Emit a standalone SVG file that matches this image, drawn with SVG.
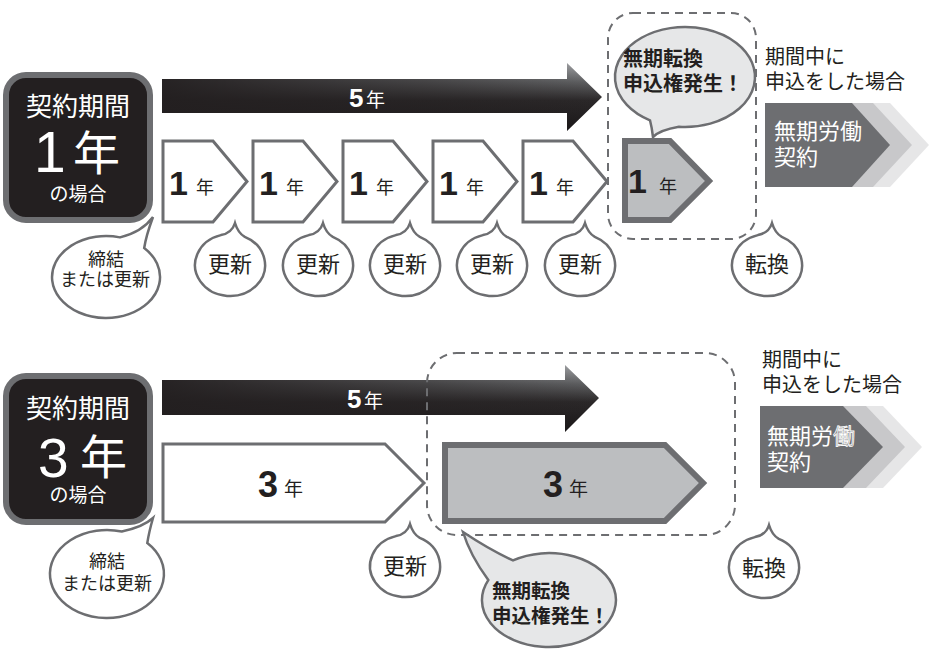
<svg xmlns="http://www.w3.org/2000/svg" width="929" height="650" viewBox="0 0 929 650">
<defs>
<style>
.jp{font-family:"Noto Sans CJK JP","Noto Sans",sans-serif;}
.num{font-family:"Liberation Sans",Arial,sans-serif;font-weight:bold;}
.numr{font-family:"Liberation Sans",Arial,sans-serif;}
.node{fill:#231f20;stroke:#6d6e71;stroke-width:6;}
.chev{fill:#fff;stroke:#6d6e71;stroke-width:3;stroke-linejoin:miter;}
.chevg{fill:#bcbec0;stroke:#6d6e71;stroke-width:6;}
.bub{fill:#fff;stroke:#6d6e71;stroke-width:2.5;}
.bubg{fill:#e6e7e8;stroke:#6d6e71;stroke-width:2.5;}
.dash{fill:none;stroke:#6d6e71;stroke-width:2;stroke-dasharray:8 6;}
.w{fill:#fff;}
.k{fill:#231f20;}
</style>
<linearGradient id="gv" x1="0" y1="0" x2="0" y2="1">
<stop offset="0" stop-color="#a7a9ac"/>
<stop offset="0.28" stop-color="#5f6062"/>
<stop offset="0.55" stop-color="#2b2829"/>
<stop offset="1" stop-color="#1a1718"/>
</linearGradient>
<linearGradient id="gh" x1="0" y1="0" x2="1" y2="0">
<stop offset="0" stop-color="#231f20" stop-opacity="0.95"/>
<stop offset="0.6" stop-color="#231f20" stop-opacity="0.45"/>
<stop offset="1" stop-color="#231f20" stop-opacity="0"/>
</linearGradient>
<path id="bsmall" d="M-9.1,-29.9 Q2,-32 5,-42 Q8,-32 14.8,-28.1 A35 31 0 1 1 -9.1,-29.9 Z"/>
</defs>

<g id="connectors">
  <g id="arrow5-top">
    <path d="M162,79 L567,79 L567,63 L602,97 L567,131 L567,113 L162,113 Z" fill="url(#gv)"/>
    <path d="M162,79 L567,79 L567,63 L602,97 L567,131 L567,113 L162,113 Z" fill="url(#gh)"/>
    <text x="349" y="107" class="num w" font-size="26">5</text>
    <text x="366" y="107" class="jp w" font-size="19">年</text>
  </g>
  <g id="arrow5-bottom">
    <path d="M162,380 L565,380 L565,365 L599,398 L565,432 L565,415 L162,415 Z" fill="url(#gv)"/>
    <path d="M162,380 L565,380 L565,365 L599,398 L565,432 L565,415 L162,415 Z" fill="url(#gh)"/>
    <text x="347" y="408" class="num w" font-size="26">5</text>
    <text x="364" y="408" class="jp w" font-size="19">年</text>
  </g>
</g>

<!-- ===== Top section ===== -->
<g id="node-1year">
  <rect x="6" y="75" width="144" height="145" rx="20" class="node"/>
  <text x="78" y="116" class="jp w" font-size="26" text-anchor="middle">契約期間</text>
  <text x="34" y="172" class="numr w" font-size="57">1</text>
  <text x="73" y="170" class="jp w" font-size="47">年</text>
  <text x="78" y="201" class="jp w" font-size="19" text-anchor="middle">の場合</text>
</g>

<g id="y1-1">
  <polygon points="163,141 213,141 247,181.5 213,222 163,222" class="chev"/>
  <text x="169" y="195" class="num k" font-size="34">1</text>
  <text x="196" y="194" class="jp k" font-size="18">年</text>
</g>
<g id="y1-2">
  <polygon points="253,141 303,141 337,181.5 303,222 253,222" class="chev"/>
  <text x="259" y="195" class="num k" font-size="34">1</text>
  <text x="286" y="194" class="jp k" font-size="18">年</text>
</g>
<g id="y1-3">
  <polygon points="343,141 393,141 427,181.5 393,222 343,222" class="chev"/>
  <text x="349" y="195" class="num k" font-size="34">1</text>
  <text x="376" y="194" class="jp k" font-size="18">年</text>
</g>
<g id="y1-4">
  <polygon points="433,141 483,141 517,181.5 483,222 433,222" class="chev"/>
  <text x="439" y="195" class="num k" font-size="34">1</text>
  <text x="466" y="194" class="jp k" font-size="18">年</text>
</g>
<g id="y1-5">
  <polygon points="523,141 573,141 607,181.5 573,222 523,222" class="chev"/>
  <text x="529" y="195" class="num k" font-size="34">1</text>
  <text x="556" y="194" class="jp k" font-size="18">年</text>
</g>

<g id="zone-top">
  <rect x="608" y="13" width="148" height="226" rx="25" class="dash"/>
</g>
<g id="y1-6">
  <polygon points="625,141 670,141 709,181 670,220 625,220" class="chevg"/>
  <text x="628" y="193" class="num k" font-size="34">1</text>
  <text x="659" y="193" class="jp k" font-size="18">年</text>
</g>
<g id="bubble-right-top">
  <path d="M678.9,126.8 Q660,130 653,137 Q652,128 650,120.3 A70 50 0 1 1 678.9,126.8 Z" class="bubg"/>
  <text class="jp k" font-size="20" font-weight="bold"><tspan x="623" y="66">無期転換</tspan><tspan x="623" y="91">申込権発生！</tspan></text>
</g>

<g id="label-top">
  <text class="jp k" font-size="20"><tspan x="765" y="64">期間中に</tspan><tspan x="765" y="89">申込をした場合</tspan></text>
</g>
<g id="muki-top">
  <polygon points="800,103 890,103 929,145 890,187 800,187" fill="#e6e6e7"/>
  <polygon points="800,103 873,103 912,145 873,187 800,187" fill="#c8c8ca"/>
  <polygon points="765,103 852,103 890,145 852,187 765,187" fill="#6d6e71"/>
  <text class="jp w" font-size="22"><tspan x="774" y="139">無期労働</tspan><tspan x="774" y="165">契約</tspan></text>
</g>

<g id="bubble-teiketsu-top">
  <path d="M120,237.4 Q142,232 153,217 Q146,236 144.2,248 A54 41 0 1 1 120,237.4 Z" class="bub"/>
  <text class="jp k" font-size="18" text-anchor="middle"><tspan x="106" y="266">締結</tspan><tspan x="105" y="286">または更新</tspan></text>
</g>
<g id="koshin-1" transform="translate(230,265)">
  <use href="#bsmall" class="bub"/>
  <text x="0" y="7" class="jp k" font-size="22" text-anchor="middle">更新</text>
</g>
<g id="koshin-2" transform="translate(318,265)">
  <use href="#bsmall" class="bub"/>
  <text x="0" y="7" class="jp k" font-size="22" text-anchor="middle">更新</text>
</g>
<g id="koshin-3" transform="translate(405,265)">
  <use href="#bsmall" class="bub"/>
  <text x="0" y="7" class="jp k" font-size="22" text-anchor="middle">更新</text>
</g>
<g id="koshin-4" transform="translate(492,265)">
  <use href="#bsmall" class="bub"/>
  <text x="0" y="7" class="jp k" font-size="22" text-anchor="middle">更新</text>
</g>
<g id="koshin-5" transform="translate(580,265)">
  <use href="#bsmall" class="bub"/>
  <text x="0" y="7" class="jp k" font-size="22" text-anchor="middle">更新</text>
</g>
<g id="tenkan-top" transform="translate(767,265)">
  <use href="#bsmall" class="bub"/>
  <text x="0" y="7" class="jp k" font-size="22" text-anchor="middle">転換</text>
</g>

<!-- ===== Bottom section ===== -->
<g id="node-3year">
  <rect x="6" y="376" width="144" height="146" rx="20" class="node"/>
  <text x="78" y="418" class="jp w" font-size="26" text-anchor="middle">契約期間</text>
  <text x="38" y="477" class="numr w" font-size="55">3</text>
  <text x="80" y="474" class="jp w" font-size="47">年</text>
  <text x="78" y="502" class="jp w" font-size="19" text-anchor="middle">の場合</text>
</g>

<g id="y3-1">
  <polygon points="163,444 385,444 424,483 385,522 163,522" class="chev"/>
  <text x="258" y="497" class="num k" font-size="36">3</text>
  <text x="284" y="496" class="jp k" font-size="19">年</text>
</g>
<g id="y3-2">
  <polygon points="445,445 665,445 703,483 665,521 445,521" class="chevg" stroke-width="5"/>
  <text x="543" y="497" class="num k" font-size="36">3</text>
  <text x="569" y="496" class="jp k" font-size="19">年</text>
</g>
<g id="zone-bottom">
  <rect x="427" y="353" width="308" height="182" rx="30" class="dash"/>
</g>

<g id="label-bottom">
  <text class="jp k" font-size="20"><tspan x="762" y="367">期間中に</tspan><tspan x="762" y="392">申込をした場合</tspan></text>
</g>
<g id="muki-bottom">
  <polygon points="800,406 883,406 922,447 883,488 800,488" fill="#e6e6e7"/>
  <polygon points="800,406 866,406 905,447 866,488 800,488" fill="#c8c8ca"/>
  <polygon points="760,406 843,406 883,447 843,488 760,488" fill="#6d6e71"/>
  <text class="jp w" font-size="22"><tspan x="767" y="444">無期労<tspan fill="#8a8b8d" stroke="#fff" stroke-width="0.8">働</tspan></tspan><tspan x="767" y="470">契約</tspan></text>
</g>

<g id="bubble-teiketsu-bottom">
  <path d="M121.8,531.5 Q143,527 153,518 Q149,532 147.3,542.9 A57 44 0 1 1 121.8,531.5 Z" class="bub"/>
  <text class="jp k" font-size="18" text-anchor="middle"><tspan x="107" y="568">締結</tspan><tspan x="107" y="590">または更新</tspan></text>
</g>
<g id="koshin-bottom" transform="translate(405,566)">
  <use href="#bsmall" class="bub"/>
  <text x="0" y="8" class="jp k" font-size="22" text-anchor="middle">更新</text>
</g>
<g id="tenkan-bottom" transform="translate(764,567)">
  <use href="#bsmall" class="bub"/>
  <text x="0" y="9" class="jp k" font-size="22" text-anchor="middle">転換</text>
</g>
<g id="bubble-right-bottom">
  <path d="M488.3,580.1 Q470,555 463,532 Q490,550 513,560.4 A67 47 0 1 1 488.3,580.1 Z" class="bubg"/>
  <text class="jp k" font-size="19.5" font-weight="bold"><tspan x="492" y="598">無期転換</tspan><tspan x="492" y="623">申込権発生！</tspan></text>
</g>
</svg>
